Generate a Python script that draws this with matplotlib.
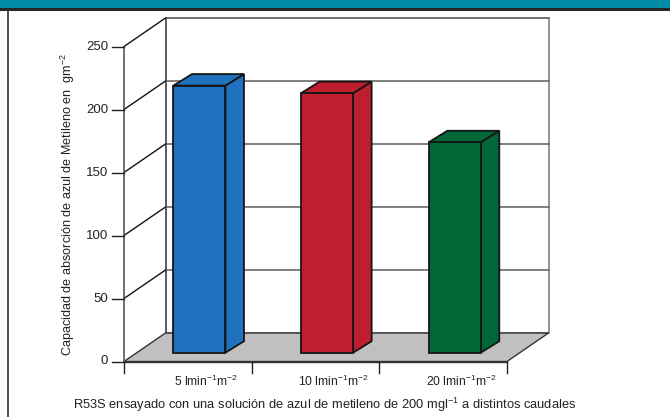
import matplotlib
matplotlib.use("Agg")
import matplotlib.pyplot as plt
from matplotlib.patches import Polygon, Rectangle
from matplotlib.lines import Line2D

plt.rcParams['font.family'] = ['Liberation Sans', 'DejaVu Sans']
plt.rcParams['mathtext.fontset'] = 'custom'
plt.rcParams['mathtext.rm'] = 'Liberation Sans'
plt.rcParams['mathtext.it'] = 'Liberation Sans:italic'

# datos
categories = ['5 lmin$^{-1}$m$^{-2}$', '10 lmin$^{-1}$m$^{-2}$', '20 lmin$^{-1}$m$^{-2}$']
capacidad = [212, 206, 167]
bar_colors = ['#1F72BD', '#BE1E2D', '#006837']
y_ticks = [0, 50, 100, 150, 200, 250]
ylabel = 'Capacidad de absorción de azul de Metileno en  gm$^{-2}$'
caption = 'R53S ensayado con una solución de azul de metileno de 200 mgl$^{-1}$ a distintos caudales'

W, H = 670, 417
fig = plt.figure(figsize=(W / 100, H / 100), dpi=100)
fig.patch.set_facecolor('white')

# front plane of the 3d box
ax_l, ax_r, ax_b, ax_t = 124, 507, 361.5, 46.5
ax = fig.add_axes([ax_l / W, 1 - ax_b / H, (ax_r - ax_l) / W, (ax_b - ax_t) / H])
ax.set_xlim(0, len(categories))
ax.set_ylim(0, y_ticks[-1])
ax.axis('off')

# pixel -> data scale so the depth can be given in pixels
sx = len(categories) / (ax_r - ax_l)
sy = y_ticks[-1] / (ax_b - ax_t)
dep = (41.5 * sx, 28.5 * sy)          # depth of the box
bar_off = (12.9 * sx, 8.8 * sy)       # bars sit a bit back from the front
bar_dep = (18.5 * sx, 11.5 * sy)      # depth of each bar
bar_w = 52 * sx
n = len(categories)
top = y_ticks[-1]

# back wall + gridlines
ax.add_patch(Rectangle((dep[0], dep[1]), n, top, facecolor='white',
                       edgecolor='#808080', lw=1.2, clip_on=False, zorder=1))
ax.add_line(Line2D([dep[0], dep[0]], [dep[1], top + dep[1]], color='#555555', lw=1.2,
                   clip_on=False, zorder=2))
for t in y_ticks[1:]:
    ax.add_line(Line2D([dep[0], n + dep[0]], [t + dep[1]] * 2, color='#6a6a6a', lw=1.2,
                       clip_on=False, zorder=2))
    ax.add_line(Line2D([0, dep[0]], [t, t + dep[1]], color='#111111', lw=1.0,
                       clip_on=False, zorder=2))

# floor
ax.add_patch(Polygon([(0, 0), (n, 0), (n + dep[0], dep[1]), (dep[0], dep[1])],
                     closed=True, facecolor='#C0C0C0', edgecolor='#333333', lw=1.0,
                     clip_on=False, zorder=3))

# bars
for i, (v, c) in enumerate(zip(capacidad, bar_colors)):
    x0 = i + 0.49 - bar_w / 2 + bar_off[0]
    x1 = x0 + bar_w
    y0 = bar_off[1]
    kw = dict(closed=True, facecolor=c, edgecolor='#151515', lw=1.3, clip_on=False,
              joinstyle='miter', zorder=5)
    ax.add_patch(Polygon([(x1, y0), (x1 + bar_dep[0], y0 + bar_dep[1]),
                          (x1 + bar_dep[0], y0 + v + bar_dep[1]), (x1, y0 + v)], **kw))
    ax.add_patch(Polygon([(x0, y0 + v), (x1, y0 + v), (x1 + bar_dep[0], y0 + v + bar_dep[1]),
                          (x0 + bar_dep[0], y0 + v + bar_dep[1])], **kw))
    ax.add_patch(Polygon([(x0, y0), (x1, y0), (x1, y0 + v), (x0, y0 + v)], **kw))

# value axis
ax.add_line(Line2D([0, 0], [0, top], color='#555555', lw=1.2, clip_on=False, zorder=4))
for t in y_ticks:
    ax.add_line(Line2D([-12 * sx, 0], [t, t], color='#222222', lw=1.0, clip_on=False, zorder=4))
    ax.text(-16 * sx, t, str(t), ha='right', va='center', fontsize=9.5, color='#222222')

# category axis
ax.add_line(Line2D([0, n], [0, 0], color='#333333', lw=1.0, clip_on=False, zorder=4))
for i in range(n + 1):
    ax.add_line(Line2D([i, i], [0, -11 * sy], color='#222222', lw=1.0, clip_on=False, zorder=4))
for i, lab in enumerate(categories):
    ax.text(i + 0.5 + 18 * sx, -20 * sy, lab, ha='center', va='center', fontsize=8.7,
            color='#222222')

fig.text(68 / W, 1 - 204 / H, ylabel, rotation=90, ha='center', va='center',
         fontsize=9.1, color='#222222')
fig.text(325 / W, 1 - 405 / H, caption, ha='center', va='center', fontsize=9.3,
         color='#222222')

# header band and left frame line
fig.patches.append(Rectangle((0, 1 - 8 / H), 1, 8 / H, transform=fig.transFigure,
                             facecolor='#008CA6', edgecolor='none'))
fig.patches.append(Rectangle((0, 1 - 11 / H), 1, 3 / H, transform=fig.transFigure,
                             facecolor='#262626', edgecolor='none'))
fig.lines.append(Line2D([8.3 / W, 8.3 / W], [0, 1 - 11 / H], transform=fig.transFigure,
                        color='#333333', lw=1.2))

fig.savefig('out.png', dpi=100)
